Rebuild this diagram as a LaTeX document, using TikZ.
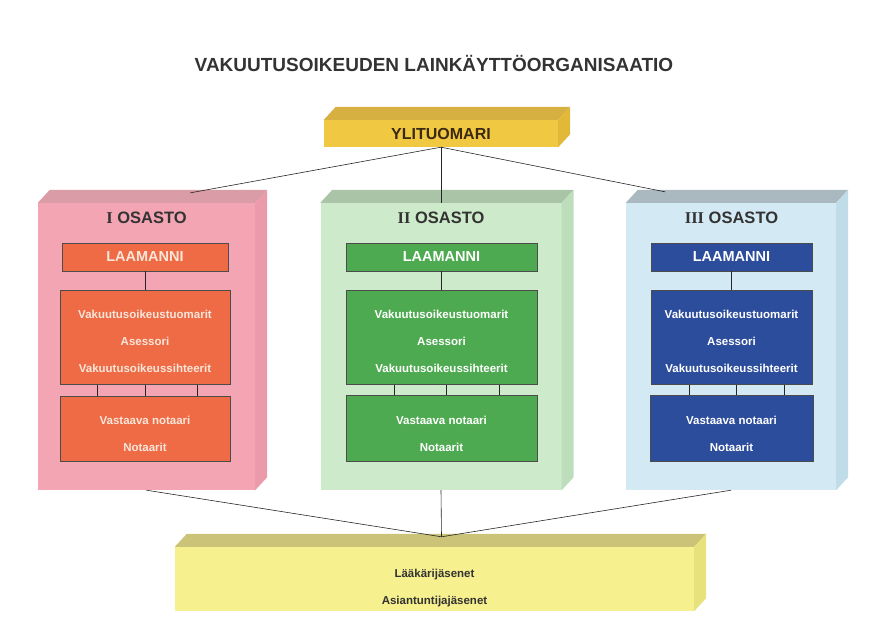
\documentclass[tikz,border=0pt]{standalone}
\usepackage{fontspec}
\setmainfont{Liberation Sans}
\newfontfamily\numfont{Liberation Serif}
\usetikzlibrary{positioning}

\definecolor{goldface}{HTML}{F1C842}
\definecolor{goldtop}{HTML}{D6B040}
\definecolor{goldside}{HTML}{E2B838}
\definecolor{pinkface}{HTML}{F3A5B4}
\definecolor{pinktop}{HTML}{DA9CA6}
\definecolor{pinkside}{HTML}{EA9AAA}
\definecolor{orangebox}{HTML}{EE6B45}
\definecolor{greenface}{HTML}{CDEBCB}
\definecolor{greentop}{HTML}{A9C4A6}
\definecolor{greenside}{HTML}{BDDEBB}
\definecolor{greenbox}{HTML}{4EAA50}
\definecolor{blueface}{HTML}{D3EAF5}
\definecolor{bluetop}{HTML}{A9B9BF}
\definecolor{blueside}{HTML}{C1DCE9}
\definecolor{bluebox}{HTML}{2C4C9C}
\definecolor{yellowface}{HTML}{F6F08E}
\definecolor{yellowtop}{HTML}{CAC378}
\definecolor{yellowside}{HTML}{E8E27C}
\definecolor{darktext}{HTML}{333333}
\definecolor{chieftext}{HTML}{3B2A12}
\definecolor{creamtext}{HTML}{F8E6DA}

\tikzstyle{chief} = [rectangle, fill=goldface, minimum width=234pt, minimum height=27pt, text=chieftext, font=\bfseries\fontsize{16}{19}\selectfont]
\tikzstyle{dept} = [rectangle, minimum height=287pt]
\tikzstyle{depttitle} = [text=darktext, font=\bfseries\fontsize{16.5}{19}\selectfont]
\tikzstyle{head} = [rectangle, draw=black!70, minimum height=28pt, font=\bfseries\fontsize{14.5}{17}\selectfont]
\tikzstyle{staff} = [rectangle, draw=black!70, align=center, font=\bfseries\fontsize{11.5}{27}\selectfont]
\tikzstyle{members} = [rectangle, fill=yellowface, minimum width=519pt, minimum height=64pt, align=center, text=darktext, font=\bfseries\fontsize{11.5}{27}\selectfont]
\tikzstyle{line} = [line width=0.6pt, black!85]

% top and side face of a slab: node, top colour, side colour
\newcommand{\slab}[3]{%
  \fill[#2] (#1.north west) -- ++(12,-13) -- ([shift={(12,-13)}]#1.north east) -- (#1.north east) -- cycle;
  \fill[#3] (#1.north east) -- ++(12,-13) -- ([shift={(12,-13)}]#1.south east) -- (#1.south east) -- cycle;}
% taller first line, pushes the text block down
\newcommand{\drop}[1]{\rule{0pt}{#1}}

\begin{document}
\begin{tikzpicture}[x=1pt, y=-1pt]
\useasboundingbox (0,0) rectangle (889,631);

\node (title) [text=darktext, font=\bfseries\fontsize{19}{22}\selectfont] at (434,63) {VAKUUTUSOIKEUDEN LAINKÄYTTÖORGANISAATIO};

\node (ylit) [chief] at (441,133.5) {YLITUOMARI};
\slab{ylit}{goldtop}{goldside}

% departments
\node (os1) [dept, fill=pinkface, minimum width=217pt] at (146.5,346.5) {};
\slab{os1}{pinktop}{pinkside}
\node (os2) [dept, fill=greenface, minimum width=241pt] at (441,346.5) {};
\slab{os2}{greentop}{greenside}
\node (os3) [dept, fill=blueface, minimum width=210pt] at (731,346.5) {};
\slab{os3}{bluetop}{blueside}

\node (os1t) [depttitle] at (146.5,218) {{\numfont I} OSASTO};
\node (os2t) [depttitle] at (441,218) {{\numfont II} OSASTO};
\node (os3t) [depttitle] at (731.5,218) {{\numfont III} OSASTO};

% I
\node (lam1) [head, fill=orangebox, text=creamtext, minimum width=166pt] at (145,257) {LAAMANNI};
\node (mid1) [staff, fill=orangebox, text=creamtext, minimum width=170pt, minimum height=94pt, below=19pt of lam1] {\drop{16.5pt}Vakuutusoikeustuomarit\\Asessori\\Vakuutusoikeussihteerit};
\node (low1) [staff, fill=orangebox, text=creamtext, minimum width=170pt, minimum height=65pt, below=11pt of mid1] {\drop{20.5pt}Vastaava notaari\\Notaarit};

% II
\node (lam2) [head, fill=greenbox, text=white, minimum width=191pt] at (441.5,257) {LAAMANNI};
\node (mid2) [staff, fill=greenbox, text=white, minimum width=191pt, minimum height=94pt, below=19pt of lam2] {\drop{16.5pt}Vakuutusoikeustuomarit\\Asessori\\Vakuutusoikeussihteerit};
\node (low2) [staff, fill=greenbox, text=white, minimum width=191pt, minimum height=66pt, below=10pt of mid2] {\drop{20.5pt}Vastaava notaari\\Notaarit};

% III
\node (lam3) [head, fill=bluebox, text=white, minimum width=161pt] at (731.5,257) {LAAMANNI};
\node (mid3) [staff, fill=bluebox, text=white, minimum width=161pt, minimum height=94pt, below=19pt of lam3] {\drop{16.5pt}Vakuutusoikeustuomarit\\Asessori\\Vakuutusoikeussihteerit};
\node (low3) [staff, fill=bluebox, text=white, minimum width=163pt, minimum height=66pt, below=10pt of mid3] {\drop{20.5pt}Vastaava notaari\\Notaarit};

\node (jas) [members] at (434.5,579) {\drop{26.5pt}Lääkärijäsenet\\Asiantuntijajäsenet};
\slab{jas}{yellowtop}{yellowside}

\coordinate (os1in) at ([shift={(44,-10)}]os1.north);
\coordinate (os3in) at ([shift={(-66,-11)}]os3.north);
\coordinate (jasin) at ([shift={(7,-10)}]jas.north);

\draw [line] (ylit.south) -- (os1in);
\draw [line] (ylit.south) -- (os2.north);
\draw [line] (ylit.south) -- (os3in);

\draw [line] (lam1) -- (mid1);
\draw [line] (lam2) -- (mid2);
\draw [line] (lam3) -- (mid3);

\draw [line] ([xshift=-48pt]mid1.south) -- ([xshift=-48pt]low1.north);
\draw [line] (mid1.south) -- (low1.north);
\draw [line] ([xshift=52pt]mid1.south) -- ([xshift=52pt]low1.north);
\draw [line] ([xshift=-47pt]mid2.south) -- ([xshift=-47pt]low2.north);
\draw [line] ([xshift=5pt]mid2.south) -- ([xshift=5pt]low2.north);
\draw [line] ([xshift=58pt]mid2.south) -- ([xshift=58pt]low2.north);
\draw [line] ([xshift=-42pt]mid3.south) -- ([xshift=-42pt]low3.north);
\draw [line] ([xshift=5pt]mid3.south) -- ([xshift=5pt]low3.north);
\draw [line] ([xshift=53pt]mid3.south) -- ([xshift=53pt]low3.north);

\draw [line] (os1.south) -- (jasin);
\draw [line] (os2.south) -- (jasin);
\draw [line] (os3.south) -- (jasin);
\end{tikzpicture}
\end{document}
